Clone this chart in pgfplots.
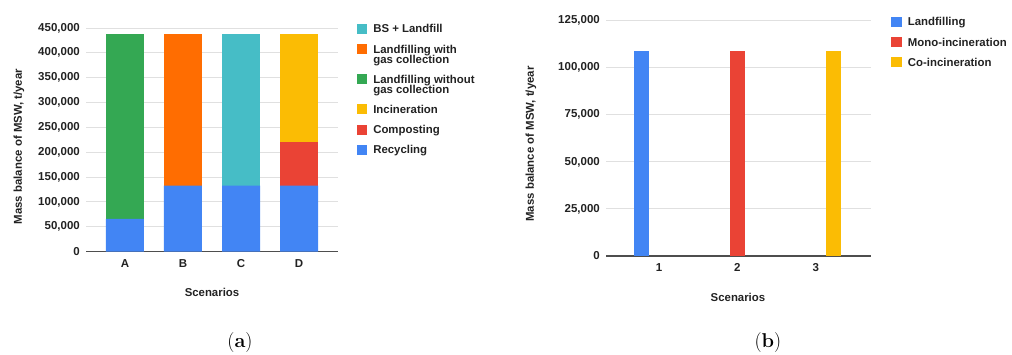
\documentclass[border=0pt]{standalone}
\usepackage{pgfplots}
\pgfplotsset{compat=1.18}
\usepackage{fontspec}
\newfontfamily\arial{Liberation Sans}
\definecolor{gblue}{HTML}{4285F4}
\definecolor{gred}{HTML}{EA4335}
\definecolor{gyellow}{HTML}{FBBC04}
\definecolor{ggreen}{HTML}{34A853}
\definecolor{gorange}{HTML}{FF6D01}
\definecolor{gteal}{HTML}{46BDC6}
\definecolor{gridgray}{HTML}{E0E0E0}
\definecolor{txt}{HTML}{222222}
\newcommand\lgn{\rule[-2.5pt]{0pt}{21.2pt}}% normal legend row
\newcommand\lgr{\rule[-2.5pt]{0pt}{21.4pt}}% normal legend row, right
\newcommand\lgc{\rule[-2.5pt]{0pt}{11pt}}% continuation row
% legend square; the image origin sits at the text node's centre, #2 = its height above the baseline
\newcommand\sq[2]{\addlegendimage{legend image code/.code={\fill[#1] (0pt,-0.5pt-#2) rectangle (9.5pt,8.5pt-#2);}}}
\pgfplotsset{
  gstyle/.style={
    scale only axis,
    separate axis lines,
    axis x line*=bottom,
    axis y line*=left,
    x axis line style={draw=txt!80, line width=1.2pt},
    y axis line style={draw=none},
    major tick length=0pt,
    ymajorgrids,
    grid style={gridgray, line width=1pt},
    scaled y ticks=false,
    /pgf/number format/.cd, fixed, 1000 sep={,}, precision=0, assume math mode=true,
    /pgfplots/.cd,
    tick label style={font=\arial\bfseries\fontsize{11.5}{12}\selectfont, text=txt},
    yticklabel style={inner sep=0pt, anchor=east, xshift=-6pt},
    xticklabel style={inner sep=0pt, anchor=north, yshift=-7.5pt},
    label style={font=\arial\bfseries\fontsize{11.4}{13}\selectfont, text=txt},
    legend cell align=left,
    legend style={draw=none, fill=none, inner sep=0pt, outer sep=0pt, anchor=north west,
      font=\arial\bfseries\fontsize{11.4}{11}\selectfont, text=txt,
      row sep=0pt,
      nodes={inner sep=0pt}},
    clip=false,
  }
}
\begin{document}
\begin{tikzpicture}
\path[use as bounding box] (0,0) rectangle (1012pt,354pt);
% ---------------- (a) ----------------
\begin{axis}[gstyle,
  at={(86pt,102.3pt)}, anchor=south west,
  width=252pt, height=223.7pt,
  ymin=0, ymax=450000,
  ytick={0,50000,100000,150000,200000,250000,300000,350000,400000,450000},
  xmin=-0.672, xmax=3.672,
  xtick={0,1,2,3}, xticklabels={A,B,C,D},
  ybar stacked, bar width=38pt,
  xlabel={Scenarios}, ylabel={Mass balance of MSW, t/year},
  xlabel style={at={(axis description cs:0.5,-0.182)}, anchor=center},
  ylabel style={at={(axis description cs:-0.266,0.47)}, anchor=center},
  legend style={at={(axis description cs:1.075,1.0614)}, column sep=6.5pt},
]
\addplot[fill=gblue, draw=none, forget plot] coordinates {(0,66000) (1,133000) (2,133000) (3,133000)};
\addplot[fill=gred, draw=none, forget plot] coordinates {(0,0) (1,0) (2,0) (3,88000)};
\addplot[fill=gyellow, draw=none, forget plot] coordinates {(0,0) (1,0) (2,0) (3,216000)};
\addplot[fill=ggreen, draw=none, forget plot] coordinates {(0,371000) (1,0) (2,0) (3,0)};
\addplot[fill=gorange, draw=none, forget plot] coordinates {(0,0) (1,304000) (2,0) (3,0)};
\addplot[fill=gteal, draw=none, forget plot] coordinates {(0,0) (1,0) (2,304000) (3,0)};
\sq{gteal}{8.1pt}
\addlegendentry{\lgn BS + Landfill}
\sq{gorange}{8.1pt}
\addlegendentry{\lgn Landfilling with}
\addlegendimage{empty legend}
\addlegendentry{\lgc gas collection}
\sq{ggreen}{8.1pt}
\addlegendentry{\lgn Landfilling without}
\addlegendimage{empty legend}
\addlegendentry{\lgc gas collection}
\sq{gyellow}{8.1pt}
\addlegendentry{\lgn Incineration}
\sq{gred}{8.1pt}
\addlegendentry{\lgn Composting}
\sq{gblue}{8.1pt}
\addlegendentry{\lgn Recycling}
\node[font=\fontsize{20}{22}\selectfont, anchor=center] at (axis description cs:0.611,-0.404) {(\textbf{a})};
\end{axis}
% ---------------- (b) ----------------
\begin{axis}[gstyle,
  at={(606pt,98pt)}, anchor=south west,
  width=265pt, height=235.3pt,
  ymin=0, ymax=125000,
  ytick={0,25000,50000,75000,100000,125000},
  xmin=0.324, xmax=3.704,
  xtick={1,2,3},
  ybar, bar width=15pt,
  xlabel={Scenarios}, ylabel={Mass balance of MSW, t/year},
  xlabel style={at={(axis description cs:0.498,-0.176)}, anchor=center},
  ylabel style={at={(axis description cs:-0.283,0.476)}, anchor=center},
  legend style={at={(axis description cs:1.0755,1.0587)}, column sep=7pt},
]
\addplot[fill=gblue, draw=none, bar shift=-18pt, forget plot] coordinates {(1,109000)};
\addplot[fill=gred, draw=none, bar shift=0pt, forget plot] coordinates {(2,109000)};
\addplot[fill=gyellow, draw=none, bar shift=18pt, forget plot] coordinates {(3,109000)};
\sq{gblue}{8.2pt}
\addlegendentry{\lgr Landfilling}
\sq{gred}{8.2pt}
\addlegendentry{\lgr Mono-incineration}
\sq{gyellow}{8.2pt}
\addlegendentry{\lgr Co-incineration}
\node[font=\fontsize{20}{22}\selectfont, anchor=center] at (axis description cs:0.611,-0.366) {(\textbf{b})};
\end{axis}
\end{tikzpicture}
\end{document}
